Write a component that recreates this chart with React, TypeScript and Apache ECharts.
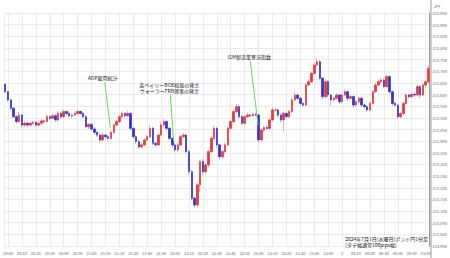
import React, { useEffect, useRef } from "react";
import * as echarts from "echarts";

// ---- data ----
const START_TIME = Date.UTC(2024, 6, 1, 19, 58);
const STEP_MS = 2 * 60 * 1000;
const AXIS_MIN = Date.UTC(2024, 6, 1, 19, 57, 18);
const AXIS_MAX = Date.UTC(2024, 6, 2, 1, 2, 48);
const FIRST_OPEN = 215.644;

const closes = [
  215.612, 215.577, 215.541, 215.505, 215.484, 215.512, 215.469, 215.477, 215.469, 215.477,
  215.481, 215.469, 215.477, 215.487, 215.484, 215.505, 215.498, 215.509, 215.491, 215.519,
  215.505, 215.527, 215.519, 215.509, 215.512, 215.519, 215.527, 215.519, 215.505, 215.462,
  215.472, 215.452, 215.438, 215.426, 215.405, 215.426, 215.419, 215.412, 215.438, 215.469,
  215.484, 215.505, 215.519, 215.509, 215.519, 215.455, 215.419, 215.398, 215.376, 215.384,
  215.405, 215.419, 215.455, 215.391, 215.384, 215.426, 215.469, 215.484, 215.455, 215.412,
  215.384, 215.362, 215.384, 215.419, 215.426, 215.355, 215.269, 215.155, 215.126, 215.212,
  215.312, 215.269, 215.298, 215.355, 215.412, 215.455, 215.384, 215.333, 215.355, 215.384,
  215.455, 215.484, 215.527, 215.548, 215.505, 215.477, 215.505, 215.512, 215.509, 215.515,
  215.512, 215.405, 215.448, 215.458, 215.455, 215.491, 215.534, 215.534, 215.512, 215.491,
  215.519, 215.505, 215.527, 215.577, 215.598, 215.584, 215.562, 215.555, 215.641, 215.655,
  215.691, 215.727, 215.741, 215.670, 215.591, 215.655, 215.598, 215.577, 215.584, 215.598,
  215.569, 215.598, 215.612, 215.584, 215.591, 215.555, 215.569, 215.584, 215.555, 215.548,
  215.534, 215.562, 215.612, 215.641, 215.655, 215.662, 215.634, 215.677, 215.612, 215.562,
  215.555, 215.505, 215.519, 215.562, 215.598, 215.591, 215.601, 215.598, 215.634, 215.598,
  215.641, 215.655, 215.713,
];

// wick lengths in 0.001 JPY
const wickUp = [
  4, 5, 6, 6, 8, 14, 6, 8, 5, 6, 8, 5, 6, 8, 6, 10, 6, 8, 6, 10,
  6, 8, 6, 8, 6, 8, 8, 6, 6, 8, 6, 6, 8, 6, 6, 8, 6, 6, 6, 8,
  6, 10, 8, 6, 10, 6, 6, 6, 6, 8, 6, 8, 14, 6, 6, 8, 12, 10, 6, 6,
  6, 6, 10, 8, 10, 6, 8, 6, 8, 8, 6, 12, 8, 8, 10, 10, 6, 6, 8, 8,
  8, 8, 8, 14, 8, 6, 8, 10, 6, 8, 8, 6, 8, 6, 8, 8, 10, 8, 6, 6,
  8, 8, 8, 10, 10, 6, 6, 6, 8, 10, 8, 10, 15, 8, 6, 10, 8, 6, 8, 8,
  6, 8, 10, 6, 8, 6, 8, 8, 6, 6, 6, 8, 8, 10, 10, 12, 8, 10, 6, 6,
  6, 6, 8, 6, 8, 6, 8, 8, 10, 6, 8, 8, 12,
];
const wickDown = [
  6, 6, 8, 6, 8, 6, 10, 8, 8, 6, 8, 8, 6, 8, 8, 6, 8, 6, 8, 6,
  8, 6, 8, 6, 8, 6, 6, 8, 6, 8, 10, 8, 10, 8, 10, 6, 8, 10, 8, 6,
  6, 6, 6, 8, 6, 8, 10, 8, 10, 8, 8, 6, 6, 10, 8, 6, 6, 6, 8, 8,
  10, 10, 8, 8, 6, 10, 12, 10, 12, 10, 30, 12, 10, 10, 8, 8, 12, 12, 10, 8,
  6, 8, 6, 6, 8, 10, 8, 6, 8, 6, 8, 12, 8, 10, 8, 6, 6, 8, 8, 10,
  50, 8, 6, 6, 6, 8, 10, 8, 6, 6, 6, 6, 6, 8, 12, 8, 10, 25, 8, 8,
  10, 6, 6, 10, 8, 12, 8, 8, 10, 8, 10, 6, 6, 6, 6, 6, 8, 6, 8, 10,
  8, 10, 8, 6, 6, 8, 6, 8, 6, 15, 6, 6, 6,
];

const Y_MIN = 214.95;
const Y_MAX = 215.95;
const Y_INTERVAL = 0.05;

const annotations = [
  { label: ["ADP雇用統計"], t1: Date.UTC(2024, 6, 1, 21, 9, 30), p1: 215.653, t2: Date.UTC(2024, 6, 1, 21, 13, 30), p2: 215.455, dx: -2 },
  { label: ["英ベイリーBOE総裁の発言", "ウォーラーFRB理事の発言"], t1: Date.UTC(2024, 6, 1, 21, 56, 36), p1: 215.601, t2: Date.UTC(2024, 6, 1, 21, 59, 0), p2: 215.398, dx: -1 },
  { label: ["ISM製造業景況指数"], t1: Date.UTC(2024, 6, 1, 22, 54, 0), p1: 215.744, t2: Date.UTC(2024, 6, 1, 22, 59, 40), p2: 215.469, dx: -1 },
];

const captionLines = ["2024年7月1日(水曜日)ポンド円1分足", "[タテ幅通常100pips幅]"];

const FONT = '"Noto Sans CJK JP", "Noto Sans", sans-serif';

function pad(n: number) {
  return n < 10 ? "0" + n : "" + n;
}

export default function App() {
  const ref = useRef<HTMLDivElement>(null);

  useEffect(() => {
    if (!ref.current) return;
    const chart = echarts.init(ref.current, undefined, { renderer: "svg" });

    const times = closes.map((_, i) => START_TIME + i * STEP_MS);
    const opens = closes.map((c, i) => (i === 0 ? FIRST_OPEN : closes[i - 1]));
    const full = closes.map((c, i) => [
      times[i],
      opens[i],
      c,
      Math.min(opens[i], c) - wickDown[i] / 1000,
      Math.max(opens[i], c) + wickUp[i] / 1000,
    ]);
    const bodies = closes.map((c, i) => [
      times[i],
      opens[i],
      c,
      Math.min(opens[i], c),
      Math.max(opens[i], c),
    ]);

    chart.setOption({
      animation: false,
      useUTC: true,
      backgroundColor: "#ffffff",
      textStyle: { fontFamily: FONT },
      grid: { left: 0, right: 19, top: 13, bottom: 12, containLabel: false },
      xAxis: {
        type: "time",
        min: AXIS_MIN,
        max: AXIS_MAX,
        splitNumber: 20,
        minInterval: 15 * 60 * 1000,
        maxInterval: 15 * 60 * 1000,
        axisLine: { show: false },
        axisTick: { show: false },
        splitLine: { show: true, lineStyle: { color: "#ececf0", width: 1 } },
        axisLabel: {
          fontSize: 4,
          color: "#666",
          margin: 5,
          fontFamily: FONT,
          hideOverlap: false,
          formatter: (val: number) => {
            const d = new Date(val);
            const h = d.getUTCHours();
            const m = d.getUTCMinutes();
            if (h === 0 && m === 0) return "2";
            return pad(h) + ":" + pad(m);
          },
        },
      },
      yAxis: {
        type: "value",
        position: "right",
        min: Y_MIN,
        max: Y_MAX,
        interval: Y_INTERVAL,
        name: "JPY",
        nameLocation: "end",
        nameGap: 5,
        nameTextStyle: { fontSize: 4, color: "#666", align: "left", padding: [0, 0, 0, 4], fontFamily: FONT },
        axisLine: { show: true, lineStyle: { color: "#999", width: 1 } },
        axisTick: { show: false },
        splitLine: { show: true, lineStyle: { color: "#ececf0", width: 1 } },
        axisLabel: {
          fontSize: 4,
          color: "#666",
          margin: 3,
          fontFamily: FONT,
          formatter: (v: number) => v.toFixed(3),
        },
      },
      series: [
        {
          type: "candlestick",
          name: "wicks",
          data: full,
          barWidth: 2,
          silent: true,
          itemStyle: {
            color: "#f2aaaa",
            color0: "#b2b2ec",
            borderColor: "#f2aaaa",
            borderColor0: "#b2b2ec",
            borderWidth: 1,
          },
          markLine: {
            silent: true,
            symbol: ["none", "none"],
            label: { show: false },
            lineStyle: { color: "#66dd55", width: 1, type: "solid" },
            emphasis: { disabled: true },
            data: annotations.map((a) => [{ coord: [a.t1, a.p1] }, { coord: [a.t2, a.p2] }]),
          },
        },
        {
          type: "candlestick",
          name: "bodies",
          data: bodies,
          barWidth: 2,
          silent: true,
          itemStyle: {
            color: "#e43a3a",
            color0: "#3434cc",
            borderColor: "#e43a3a",
            borderColor0: "#3434cc",
            borderWidth: 0.6,
          },
        },
      ],
    });

    const annoTexts = annotations.map((a) => {
      const pt = chart.convertToPixel({ gridIndex: 0 }, [a.t1, a.p1]) as number[];
      return {
        type: "text",
        silent: true,
        z: 20,
        x: pt[0] + a.dx,
        y: pt[1] - 1.5,
        style: {
          text: a.label.join("\n"),
          fontSize: 5,
          lineHeight: 5.5,
          fontFamily: FONT,
          fill: "#222",
          align: "center",
          verticalAlign: "bottom",
        },
      };
    });

    chart.setOption({
      graphic: [
        {
          type: "line",
          shape: { x1: 431, y1: 0, x2: 431, y2: 258 },
          style: { stroke: "#999", lineWidth: 1 },
          silent: true,
          z: 10,
        },
        ...annoTexts,
        {
          type: "text",
          right: 22,
          top: 235,
          z: 20,
          silent: true,
          style: {
            text: captionLines.join("\n"),
            fontSize: 5,
            lineHeight: 6.6,
            fontFamily: FONT,
            fill: "#111",
            align: "right",
            backgroundColor: "#ffffff",
          },
        },
      ],
    });

    return () => {
      chart.dispose();
    };
  }, []);

  return (
    <div
      ref={ref}
      style={{ position: "fixed", left: 0, top: 0, width: 450, height: 258, background: "#fff" }}
    />
  );
}
